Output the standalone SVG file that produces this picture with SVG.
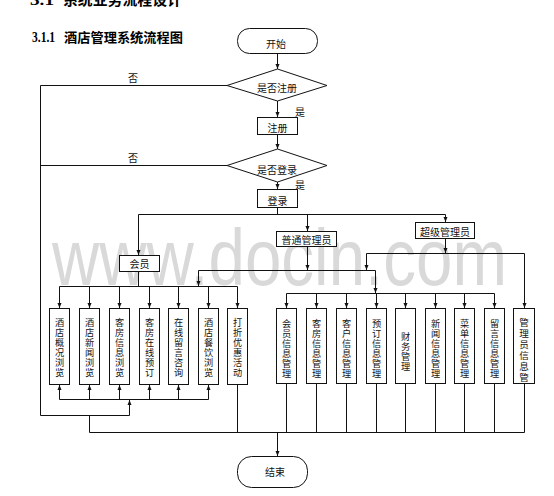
<svg xmlns="http://www.w3.org/2000/svg" width="554" height="496" viewBox="0 0 554 496">
<defs>
<style>
.ln{fill:none;stroke:#111;stroke-width:1}
.ar{fill:none;stroke:#111;stroke-width:1;marker-end:url(#ah)}
.bx{fill:#fff;stroke:#111;stroke-width:1}
.t{font-family:"Noto Sans CJK SC",sans-serif;font-size:10px;fill:#111;text-anchor:middle}
.v{font-family:"Noto Sans CJK SC",sans-serif;font-size:9.2px;fill:#111;text-anchor:middle}
.h{font-family:"Liberation Serif","Noto Sans CJK SC",serif;font-weight:bold;fill:#000}
.hc{font-family:"Noto Sans CJK SC",sans-serif;font-weight:bold;fill:#000}
</style>
<marker id="ah" viewBox="0 0 10 10" refX="10" refY="5" markerWidth="5" markerHeight="5" markerUnits="userSpaceOnUse" orient="auto">
<path d="M0,1 L10,5 L0,9 z" fill="#111"/>
</marker>
</defs>
<rect width="554" height="496" fill="#fff"/>
<text x="52" y="285" font-family="Liberation Sans,Arial,sans-serif" font-size="80" fill="#d9d9d9" textLength="455" lengthAdjust="spacingAndGlyphs">www.docin.com</text>

<g id="titles">
<text class="h" x="30" y="5" font-size="15" textLength="24" lengthAdjust="spacingAndGlyphs">3.1</text>
<text class="hc" x="63" y="5" font-size="14.5" textLength="119" lengthAdjust="spacingAndGlyphs">系统业务流程设计</text>
<text class="h" x="32" y="41.5" font-size="14" textLength="23" lengthAdjust="spacingAndGlyphs">3.1.1</text>
<text class="hc" x="64" y="41.5" font-size="13" textLength="119" lengthAdjust="spacingAndGlyphs">酒店管理系统流程图</text>
</g>

<g id="connectors">
<path class="ar" d="M277.5,53.5 V69"/>
<path class="ar" d="M277.5,101 V117"/>
<path class="ar" d="M277.5,134.5 V149"/>
<path class="ar" d="M277.5,182 V189"/>
<path class="ln" d="M277.5,207.5 V214.5"/>
<path class="ln" d="M138.5,214.5 H445.5"/>
<path class="ar" d="M138.5,214.5 V255"/>
<path class="ar" d="M307.5,214.5 V231"/>
<path class="ar" d="M445.5,214.5 V222"/>
<path class="ar" d="M227,85.5 H40.5 V415.5 H129.5 V400"/>
<path class="ln" d="M227,165.5 H40.5"/>
<path class="ln" d="M59.5,399.5 H208.5"/>
<path class="ar" d="M59.5,399.5 V385"/>
<path class="ar" d="M89.5,399.5 V385"/>
<path class="ar" d="M119.5,399.5 V385"/>
<path class="ar" d="M149.5,399.5 V385"/>
<path class="ar" d="M178.5,399.5 V385"/>
<path class="ar" d="M208.5,399.5 V385"/>
<path class="ln" d="M138.5,271.5 V286.5"/>
<path class="ln" d="M59.5,286.5 H237.5"/>
<path class="ar" d="M59.5,286.5 V308"/>
<path class="ar" d="M89.5,286.5 V308"/>
<path class="ar" d="M119.5,286.5 V308"/>
<path class="ar" d="M149.5,286.5 V308"/>
<path class="ar" d="M178.5,286.5 V308"/>
<path class="ar" d="M208.5,286.5 V308"/>
<path class="ar" d="M237.5,286.5 V308"/>
<path class="ar" d="M307.5,246.5 V270"/>
<path class="ln" d="M198.5,270.5 H375.5"/>
<path class="ar" d="M198.5,270.5 V286"/>
<path class="ar" d="M375.5,270.5 V293"/>
<path class="ar" d="M445.5,238.5 V253"/>
<path class="ln" d="M366.5,253.5 H524.5"/>
<path class="ar" d="M366.5,253.5 V270"/>
<path class="ar" d="M524.5,253.5 V308"/>
<path class="ln" d="M286.5,293.5 H494.5"/>
<path class="ar" d="M286.5,293.5 V308"/>
<path class="ar" d="M316.5,293.5 V308"/>
<path class="ar" d="M346.5,293.5 V308"/>
<path class="ar" d="M376.5,293.5 V308"/>
<path class="ar" d="M405.5,293.5 V308"/>
<path class="ar" d="M435.5,293.5 V308"/>
<path class="ar" d="M464.5,293.5 V308"/>
<path class="ar" d="M494.5,293.5 V308"/>
<path class="ln" d="M89.5,415.5 V432.5 H524.5"/>
<path class="ln" d="M237.5,384.5 V432.5"/>
<path class="ln" d="M286.5,383.5 V432.5 M316.5,383.5 V432.5 M346.5,383.5 V432.5 M376.5,383.5 V432.5 M405.5,383.5 V432.5 M435.5,383.5 V432.5 M464.5,383.5 V432.5 M494.5,383.5 V432.5 M524.5,383.5 V432.5"/>
<path class="ar" d="M277.5,432.5 V456"/>
<text class="t" x="133" y="82">否</text>
<text class="t" x="133" y="162">否</text>
<text class="t" x="300" y="116">是</text>
<text class="t" x="300" y="189">是</text>
</g>

<g id="start"><rect class="bx" x="237.5" y="28.5" width="80" height="25" rx="12"/><text class="t" x="276" y="48">开始</text></g>
<g id="isRegistered"><polygon class="bx" points="227,85.5 277.5,69 327,85.5 277.5,101"/><text class="t" x="277" y="92">是否注册</text></g>
<g id="register"><rect class="bx" x="257.5" y="117.5" width="40" height="17"/><text class="t" x="277.5" y="131.5">注册</text></g>
<g id="isLogin"><polygon class="bx" points="227,165.5 277.5,149 327,165.5 277.5,182"/><text class="t" x="277" y="174">是否登录</text></g>
<g id="login"><rect class="bx" x="257.5" y="189.5" width="40" height="18"/><text class="t" x="277.5" y="204.5">登录</text></g>
<g id="member"><rect class="bx" x="119.5" y="255.5" width="40" height="16"/><text class="t" x="139.5" y="268">会员</text></g>
<g id="admin"><rect class="bx" x="276.5" y="231.5" width="60" height="15"/><text class="t" x="306.5" y="243.5">普通管理员</text></g>
<g id="superAdmin"><rect class="bx" x="415.5" y="222.5" width="59" height="16"/><text class="t" x="445" y="235.5">超级管理员</text></g>

<g id="m1"><rect class="bx" x="49.5" y="308.5" width="20" height="76"/><text class="v"><tspan x="59.5" y="326">酒</tspan><tspan x="59.5" y="336">店</tspan><tspan x="59.5" y="346">概</tspan><tspan x="59.5" y="356">况</tspan><tspan x="59.5" y="366">浏</tspan><tspan x="59.5" y="376">览</tspan></text></g>
<g id="m2"><rect class="bx" x="79.5" y="308.5" width="20" height="76"/><text class="v"><tspan x="89.5" y="326">酒</tspan><tspan x="89.5" y="336">店</tspan><tspan x="89.5" y="346">新</tspan><tspan x="89.5" y="356">闻</tspan><tspan x="89.5" y="366">浏</tspan><tspan x="89.5" y="376">览</tspan></text></g>
<g id="m3"><rect class="bx" x="109.5" y="308.5" width="20" height="76"/><text class="v"><tspan x="119.5" y="326">客</tspan><tspan x="119.5" y="336">房</tspan><tspan x="119.5" y="346">信</tspan><tspan x="119.5" y="356">息</tspan><tspan x="119.5" y="366">浏</tspan><tspan x="119.5" y="376">览</tspan></text></g>
<g id="m4"><rect class="bx" x="139.5" y="308.5" width="20" height="76"/><text class="v"><tspan x="149.5" y="326">客</tspan><tspan x="149.5" y="336">房</tspan><tspan x="149.5" y="346">在</tspan><tspan x="149.5" y="356">线</tspan><tspan x="149.5" y="366">预</tspan><tspan x="149.5" y="376">订</tspan></text></g>
<g id="m5"><rect class="bx" x="168.5" y="308.5" width="20" height="76"/><text class="v"><tspan x="178.5" y="326">在</tspan><tspan x="178.5" y="336">线</tspan><tspan x="178.5" y="346">留</tspan><tspan x="178.5" y="356">言</tspan><tspan x="178.5" y="366">咨</tspan><tspan x="178.5" y="376">询</tspan></text></g>
<g id="m6"><rect class="bx" x="198.5" y="308.5" width="20" height="76"/><text class="v"><tspan x="208.5" y="326">酒</tspan><tspan x="208.5" y="336">店</tspan><tspan x="208.5" y="346">餐</tspan><tspan x="208.5" y="356">饮</tspan><tspan x="208.5" y="366">浏</tspan><tspan x="208.5" y="376">览</tspan></text></g>
<g id="m7"><rect class="bx" x="227.5" y="308.5" width="20" height="76"/><text class="v"><tspan x="237.5" y="326">打</tspan><tspan x="237.5" y="336">折</tspan><tspan x="237.5" y="346">优</tspan><tspan x="237.5" y="356">惠</tspan><tspan x="237.5" y="366">活</tspan><tspan x="237.5" y="376">动</tspan></text></g>

<g id="a1"><rect class="bx" x="276.5" y="308.5" width="20" height="75"/><text class="v"><tspan x="286.5" y="326.5">会</tspan><tspan x="286.5" y="336.5">员</tspan><tspan x="286.5" y="346.5">信</tspan><tspan x="286.5" y="356.5">息</tspan><tspan x="286.5" y="366.5">管</tspan><tspan x="286.5" y="376.5">理</tspan></text></g>
<g id="a2"><rect class="bx" x="306.5" y="308.5" width="20" height="75"/><text class="v"><tspan x="316.5" y="326.5">客</tspan><tspan x="316.5" y="336.5">房</tspan><tspan x="316.5" y="346.5">信</tspan><tspan x="316.5" y="356.5">息</tspan><tspan x="316.5" y="366.5">管</tspan><tspan x="316.5" y="376.5">理</tspan></text></g>
<g id="a3"><rect class="bx" x="336.5" y="308.5" width="20" height="75"/><text class="v"><tspan x="346.5" y="326.5">客</tspan><tspan x="346.5" y="336.5">户</tspan><tspan x="346.5" y="346.5">信</tspan><tspan x="346.5" y="356.5">息</tspan><tspan x="346.5" y="366.5">管</tspan><tspan x="346.5" y="376.5">理</tspan></text></g>
<g id="a4"><rect class="bx" x="366.5" y="308.5" width="20" height="75"/><text class="v"><tspan x="376.5" y="326.5">预</tspan><tspan x="376.5" y="336.5">订</tspan><tspan x="376.5" y="346.5">信</tspan><tspan x="376.5" y="356.5">息</tspan><tspan x="376.5" y="366.5">管</tspan><tspan x="376.5" y="376.5">理</tspan></text></g>
<g id="a5"><rect class="bx" x="395.5" y="308.5" width="20" height="75"/><text class="v"><tspan x="405.5" y="339.5">财</tspan><tspan x="405.5" y="349.5">务</tspan><tspan x="405.5" y="359.5">管</tspan><tspan x="405.5" y="369.5">理</tspan></text></g>
<g id="a6"><rect class="bx" x="425.5" y="308.5" width="20" height="75"/><text class="v"><tspan x="435.5" y="326.5">新</tspan><tspan x="435.5" y="336.5">闻</tspan><tspan x="435.5" y="346.5">信</tspan><tspan x="435.5" y="356.5">息</tspan><tspan x="435.5" y="366.5">管</tspan><tspan x="435.5" y="376.5">理</tspan></text></g>
<g id="a7"><rect class="bx" x="454.5" y="308.5" width="20" height="75"/><text class="v"><tspan x="464.5" y="326.5">菜</tspan><tspan x="464.5" y="336.5">单</tspan><tspan x="464.5" y="346.5">信</tspan><tspan x="464.5" y="356.5">息</tspan><tspan x="464.5" y="366.5">管</tspan><tspan x="464.5" y="376.5">理</tspan></text></g>
<g id="a8"><rect class="bx" x="484.5" y="308.5" width="20" height="75"/><text class="v"><tspan x="494.5" y="326.5">留</tspan><tspan x="494.5" y="336.5">言</tspan><tspan x="494.5" y="346.5">信</tspan><tspan x="494.5" y="356.5">息</tspan><tspan x="494.5" y="366.5">管</tspan><tspan x="494.5" y="376.5">理</tspan></text></g>
<g id="a9"><rect class="bx" x="513.5" y="308.5" width="21" height="75"/><text class="v" style="font-size:9.6px"><tspan x="524" y="326">管</tspan><tspan x="524" y="337">理</tspan><tspan x="524" y="348">员</tspan><tspan x="524" y="359">信</tspan><tspan x="524" y="370">息</tspan><tspan x="524" y="381">管</tspan></text></g>

<g id="end"><rect class="bx" x="237.5" y="456.5" width="70" height="31" rx="14"/><text class="t" x="275" y="476">结束</text></g>
</svg>
